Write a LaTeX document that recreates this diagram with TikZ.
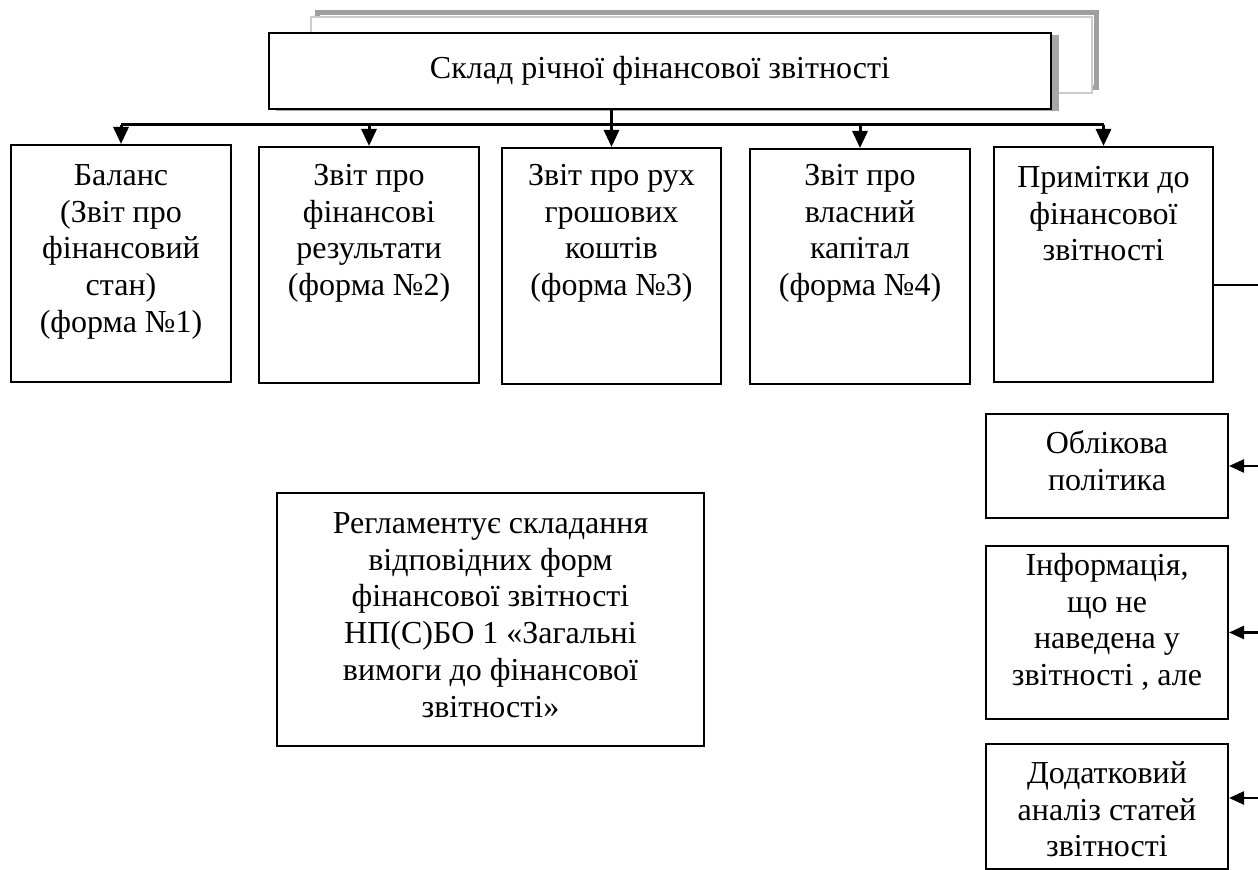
\documentclass[tikz,border=0pt]{standalone}
\usepackage{fontspec}
\setmainfont{Liberation Serif}
\usetikzlibrary{arrows.meta,positioning}

\tikzset{
  formbox/.style={draw, line width=1pt, inner sep=0pt, fill=white, anchor=north},
  boxtext/.style={anchor=north, align=center, inner sep=0pt, font=\fontsize{16pt}{18.4pt}\selectfont},
  feed/.style={line width=1.5pt, -{Triangle[length=8.5pt,width=7.5pt]}},
  side/.style={line width=1.2pt, -{Triangle[length=7.5pt,width=6.5pt]}},
}

\begin{document}
\begin{tikzpicture}[x=0.5pt, y=-0.5pt]
\useasboundingbox (0,0) rectangle (1258,870);

% frame behind the title
\draw[gray!75, line width=2.5pt] (317,13) rectangle (1096,88);
\draw[gray!40, line width=1pt, fill=white] (311,17) rectangle (1092,93);
\fill[gray!70] (276,35) rectangle (1059,111);

\node[formbox, minimum width=391pt, minimum height=38pt] (title) at (660,32) {};
\node[boxtext, anchor=center] (title-t) at (title.center) {Склад річної фінансової звітності};

% forms
\node[formbox, minimum width=110pt, minimum height=118.5pt] (balance) at (121,144) {};
\node[formbox, minimum width=110pt, minimum height=118pt] (results) at (369,146) {};
\node[formbox, minimum width=109.5pt, minimum height=118pt] (cashflow) at (611.5,147) {};
\node[formbox, minimum width=110pt, minimum height=117.5pt] (equity) at (860,148) {};
\node[formbox, minimum width=109.5pt, minimum height=117.5pt] (notes) at (1103.5,146) {};

\node[boxtext] (balance-t) at ([yshift=-7.6pt]balance.north) {\strut Баланс\\(Звіт про\\фінансовий\\стан)\\(форма №1)};
\node[boxtext] (results-t) at ([yshift=-6.6pt]results.north) {\strut Звіт про\\фінансові\\результати\\(форма №2)};
\node[boxtext] (cashflow-t) at ([yshift=-6.1pt]cashflow.north) {\strut Звіт про рух\\грошових\\коштів\\(форма №3)};
\node[boxtext] (equity-t) at ([yshift=-5.6pt]equity.north) {\strut Звіт про\\власний\\капітал\\(форма №4)};
\node[boxtext] (notes-t) at ([yshift=-7.6pt]notes.north) {\strut Примітки до\\фінансової\\звітності};

% parts of the notes
\node[formbox, minimum width=121pt, minimum height=52pt] (policy) at (1107,413) {};
\node[formbox, minimum width=121pt, minimum height=86.5pt] (info) at (1107,545) {};
\node[formbox, minimum width=121pt, minimum height=62.5pt] (extra) at (1107,743) {};

\node[boxtext] (policy-t) at ([yshift=-7.1pt]policy.north) {\strut Облікова\\політика};
\node[boxtext] (info-t) at ([yshift=-2.1pt]info.north) {\strut Інформація,\\що не\\наведена у\\звітності , але};
\node[boxtext] (extra-t) at ([yshift=-7.1pt]extra.north) {\strut Додатковий\\аналіз статей\\звітності};

% standard
\node[formbox, minimum width=213.5pt, minimum height=126.5pt] (rule) at (490.5,492) {};
\node[boxtext] (rule-t) at ([yshift=-7.6pt]rule.north) {\strut Регламентує складання\\відповідних форм\\фінансової звітності\\НП(С)БО 1 «Загальні\\вимоги до фінансової\\звітності»};

% connectors
\coordinate (bus) at (612,125);
\draw[line width=1.5pt] (balance.north |- bus) -- (notes.north |- bus);
\draw[feed] (cashflow.north |- title.south) -- (cashflow.north);
\foreach \f in {balance,results,equity,notes}
  \draw[feed] (\f.north |- bus) -- (\f.north);

\coordinate (rail) at (1275,285);
\coordinate (r3) at (1275,798);
\draw[line width=0.6pt] (notes.east |- rail) -- (rail);
\draw[side] (rail |- policy.east) -- (policy.east);
\draw[side] (rail |- info.east) -- (info.east);
\draw[side] (r3) -- (r3 -| extra.east);
\end{tikzpicture}
\end{document}
